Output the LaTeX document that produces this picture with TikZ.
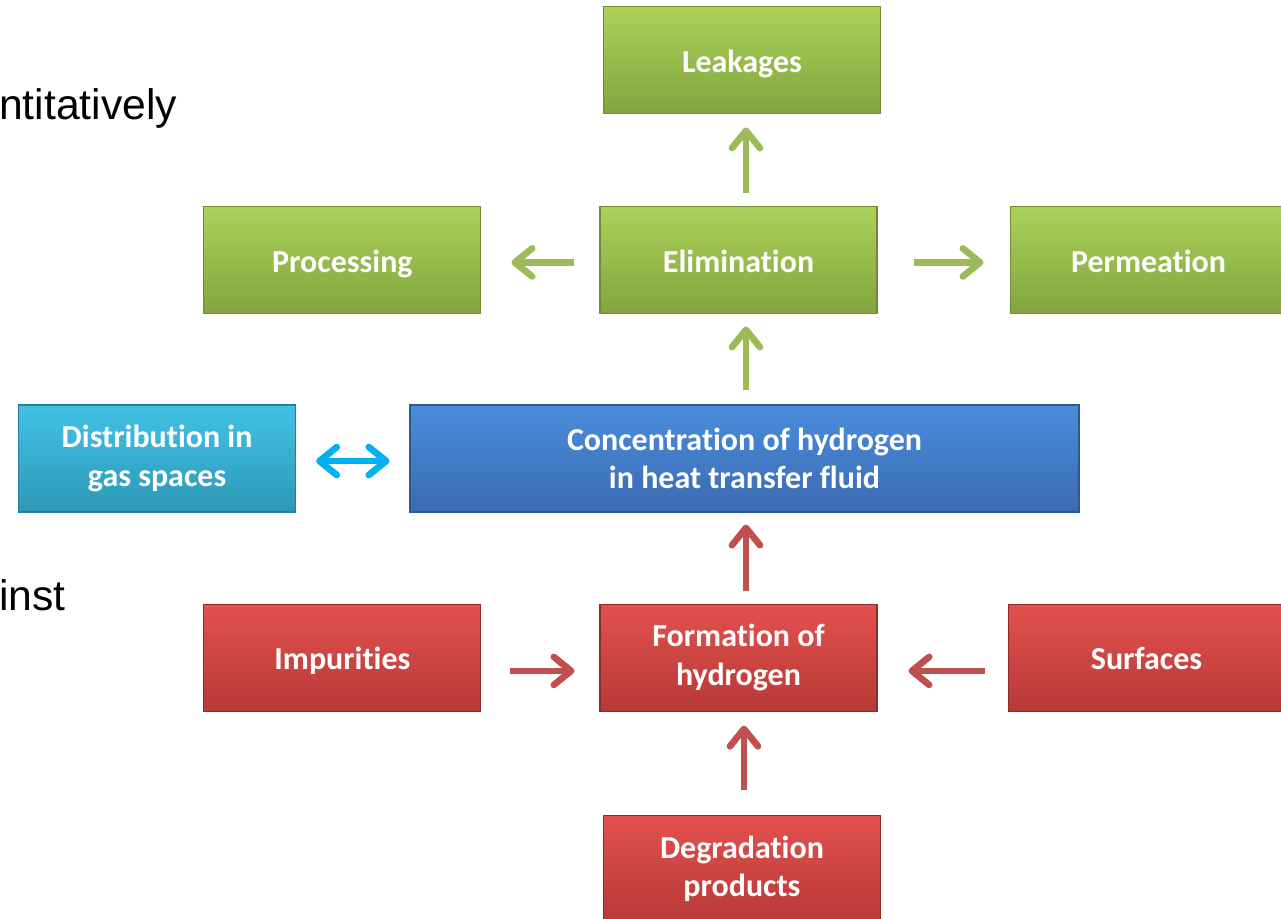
\documentclass[tikz,border=0pt]{standalone}
\usepackage{fontspec}
\setmainfont[Ligatures=NoCommon]{Carlito}
\newfontfamily\slidefont{Liberation Sans}
\usetikzlibrary{arrows.meta, positioning}

\definecolor{gtop}{HTML}{ABD15A}
\definecolor{gbot}{HTML}{82A43E}
\definecolor{gline}{HTML}{6F8C35}
\definecolor{rtop}{HTML}{E2514E}
\definecolor{rbot}{HTML}{B73936}
\definecolor{rline}{HTML}{8E2B29}
\definecolor{btop}{HTML}{4B8CDB}
\definecolor{bbot}{HTML}{3A6BB2}
\definecolor{bline}{HTML}{2F5892}
\definecolor{ctop}{HTML}{42C2E6}
\definecolor{cbot}{HTML}{2D98B6}
\definecolor{cline}{HTML}{237E98}
\definecolor{garrow}{HTML}{9BBB59}
\definecolor{rarrow}{HTML}{C0504D}
\definecolor{carrow}{HTML}{00B0F0}

\begin{document}
\begin{tikzpicture}[
  x=0.75pt, y=-0.75pt,
  box/.style={shading=axis, top color=#1top, bottom color=#1bot,
              draw=#1line, line width=0.8pt,
              minimum width=207.75pt, minimum height=80.25pt, inner sep=0pt,
              align=center, text=white,
              font=\fontsize{24}{29}\selectfont\bfseries},
  oneline/.style={text height=17.5pt, text depth=0pt},
  side/.style={font=\slidefont\fontsize{32}{38}\selectfont, inner sep=0pt},
  arr/.style={draw=#1, line width=5pt,
              -{Straight Barb[length=13pt, width=21pt, round]}}
]
  \useasboundingbox (0,0) rectangle (1281,918);
  \clip (0,0) rectangle (1281,918);

  \node[side, anchor=base west] (txta) at (-1,119) {ntitatively};
  \node[side, anchor=base west] (txtb) at (-1,610) {inst};

  \node[box=b, minimum width=501.75pt] (conc) at (744.5,458.5)
    {Concentration of hydrogen\\in heat transfer fluid};

  \node[box=c, left=85pt of conc] (dist)
    {Distribution in\\gas spaces};

  \node[box=g, oneline, above=67.5pt of conc, xshift=-4.5pt] (elim) {Elimination};
  \node[box=g, oneline, above=69pt of elim, xshift=2.6pt] (leak) {Leakages};
  \node[box=g, oneline, left=88.5pt of elim] (proc) {Processing};
  \node[box=g, oneline, right=99pt of elim] (perm) {Permeation};

  \node[box=r, below=68.25pt of conc, xshift=-4.5pt] (form)
    {Formation of\\hydrogen};
  \node[box=r, oneline, left=88.5pt of form] (imp) {Impurities};
  \node[box=r, oneline, right=97.5pt of form] (surf) {Surfaces};
  \node[box=r, below=77.25pt of form, xshift=2.6pt] (degr)
    {Degradation\\products};

  \draw[arr=garrow, shorten <=9.75pt, shorten >=9.75pt]
    ([xshift=5.6pt]elim.north) -- ([xshift=3pt]leak.south);
  \draw[arr=garrow, shorten <=18.75pt, shorten >=22.5pt]
    ([yshift=-1.5pt]elim.west) -- ([yshift=-1.5pt]proc.east);
  \draw[arr=garrow, shorten <=27pt, shorten >=19.5pt]
    ([yshift=-1.5pt]elim.east) -- ([yshift=-1.5pt]perm.west);
  \draw[arr=garrow, shorten <=10.5pt, shorten >=9pt]
    ([xshift=1.1pt]conc.north) -- ([xshift=5.6pt]elim.south);

  \draw[draw=carrow, line width=5pt,
        {Straight Barb[length=13pt, width=21pt, round]}-{Straight Barb[length=13pt, width=21pt, round]},
        shorten <=15pt, shorten >=15pt]
    ([yshift=-1.9pt]dist.east) -- ([yshift=-1.9pt]conc.west);

  \draw[arr=rarrow, shorten <=9.75pt, shorten >=9pt]
    ([xshift=5.6pt]form.north) -- ([xshift=1.1pt]conc.south);
  \draw[arr=rarrow, shorten <=21.75pt, shorten >=18.75pt]
    ([yshift=-10pt]imp.east) -- ([yshift=-10pt]form.west);
  \draw[arr=rarrow, shorten <=17.25pt, shorten >=23.25pt]
    ([yshift=-10pt]surf.west) -- ([yshift=-10pt]form.east);
  \draw[arr=rarrow, shorten <=18.75pt, shorten >=10.5pt]
    ([xshift=1.5pt]degr.north) -- ([xshift=4.1pt]form.south);
\end{tikzpicture}
\end{document}
